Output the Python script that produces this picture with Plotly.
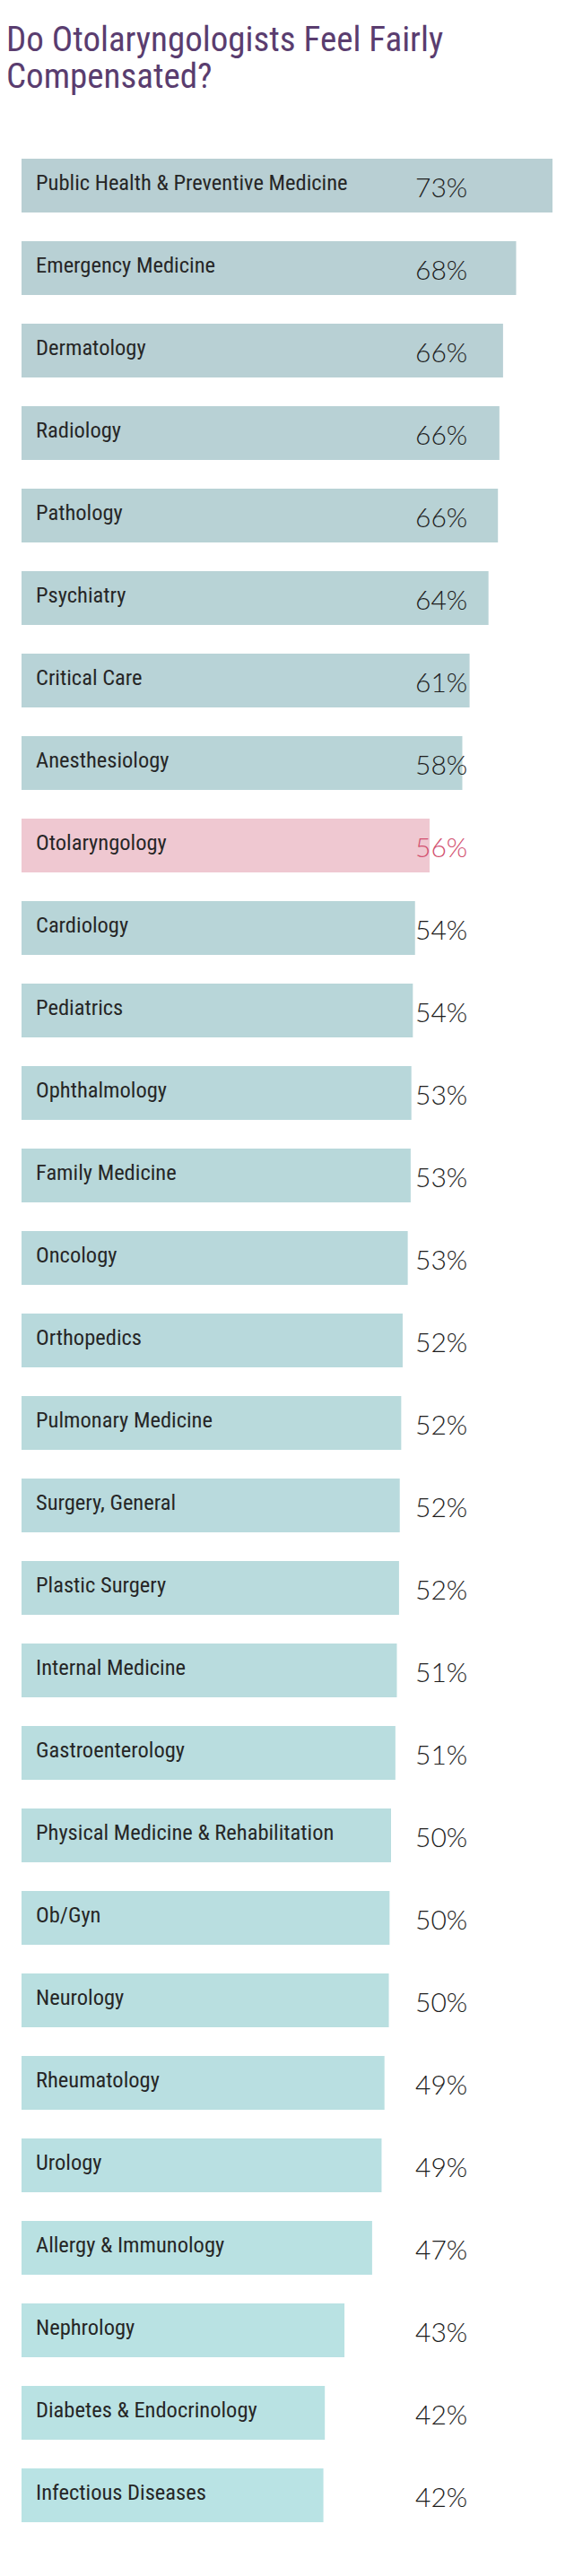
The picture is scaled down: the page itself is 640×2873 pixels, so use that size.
import plotly.graph_objects as go

specialties = [
    "Public Health & Preventive Medicine", "Emergency Medicine", "Dermatology",
    "Radiology", "Pathology", "Psychiatry", "Critical Care", "Anesthesiology",
    "Otolaryngology", "Cardiology", "Pediatrics", "Ophthalmology",
    "Family Medicine", "Oncology", "Orthopedics", "Pulmonary Medicine",
    "Surgery, General", "Plastic Surgery", "Internal Medicine",
    "Gastroenterology", "Physical Medicine & Rehabilitation", "Ob/Gyn",
    "Neurology", "Rheumatology", "Urology", "Allergy & Immunology",
    "Nephrology", "Diabetes & Endocrinology", "Infectious Diseases",
]
values = [73, 68, 66, 66, 66, 64, 61, 58, 56, 54, 54, 53, 53, 53, 52, 52,
          52, 52, 51, 51, 50, 50, 50, 49, 49, 47, 43, 42, 42]
bar_lengths = [73, 68, 66.2, 65.7, 65.5, 64.2, 61.6, 60.6, 56.1, 54.1, 53.8, 53.6,
               53.5, 53.1, 52.4, 52.2, 52.0, 51.9, 51.6, 51.4, 50.8, 50.6, 50.5,
               49.9, 49.5, 48.2, 44.4, 41.7, 41.5]
highlight = "Otolaryngology"

TITLE_LINES = ["Do Otolaryngologists Feel Fairly", "Compensated?"]

def lerp(c1, c2, t):
    return "#%02x%02x%02x" % tuple(round(a + (b - a) * t) for a, b in zip(c1, c2))

top_c, bot_c = (0xb8, 0xcf, 0xd3), (0xb9, 0xe3, 0xe4)
n = len(specialties)
colors = []
for i, s in enumerate(specialties):
    if s == highlight:
        colors.append("#efc8d1")
    else:
        colors.append(lerp(top_c, bot_c, i / (n - 1)))

ypos = list(range(n))
cond = "Roboto Condensed, Liberation Sans Narrow, DejaVu Sans Condensed, Arial Narrow, sans-serif"

fig = go.Figure(go.Bar(
    x=bar_lengths, y=ypos, orientation="h", width=60 / 92,
    marker=dict(color=colors, line=dict(width=0)),
    hoverinfo="skip",
))

for i, (s, v) in enumerate(zip(specialties, values)):
    fig.add_annotation(x=0, y=i, xref="x", yref="y", text=s, showarrow=False,
                       xanchor="left", yanchor="middle", xshift=14, yshift=4,
                       font=dict(family=cond, size=24.5, color="#262626"))
    fig.add_annotation(x=53.9, y=i, xref="x", yref="y", text=f"{v}%", showarrow=False,
                       xanchor="left", yanchor="middle", yshift=-1,
                       font=dict(family="Lato, Raleway, sans-serif", size=30, weight=300,
                                 color="#d2506f" if s == highlight else "#1e1e1e"))

H = 2873
for line, yc in zip(TITLE_LINES, [43.5, 85.5]):
    fig.add_annotation(x=5 / 640, y=1 - yc / H, xref="paper", yref="paper",
                       xanchor="left", yanchor="middle", align="left", showarrow=False,
                       text=line,
                       font=dict(family=cond, size=39, color="#5a3d6f"))

px_per = 8.11
x0 = -24 / px_per
x1 = (640 - 24) / px_per
fig.update_layout(
    width=640, height=H,
    margin=dict(l=0, r=0, t=0, b=0),
    paper_bgcolor="white", plot_bgcolor="white",
    showlegend=False,
    xaxis=dict(range=[x0, x1], visible=False, fixedrange=True),
    yaxis=dict(range=[(H - 207) / 92, -207 / 92], visible=False, fixedrange=True),
)

fig.write_html("out.html")
